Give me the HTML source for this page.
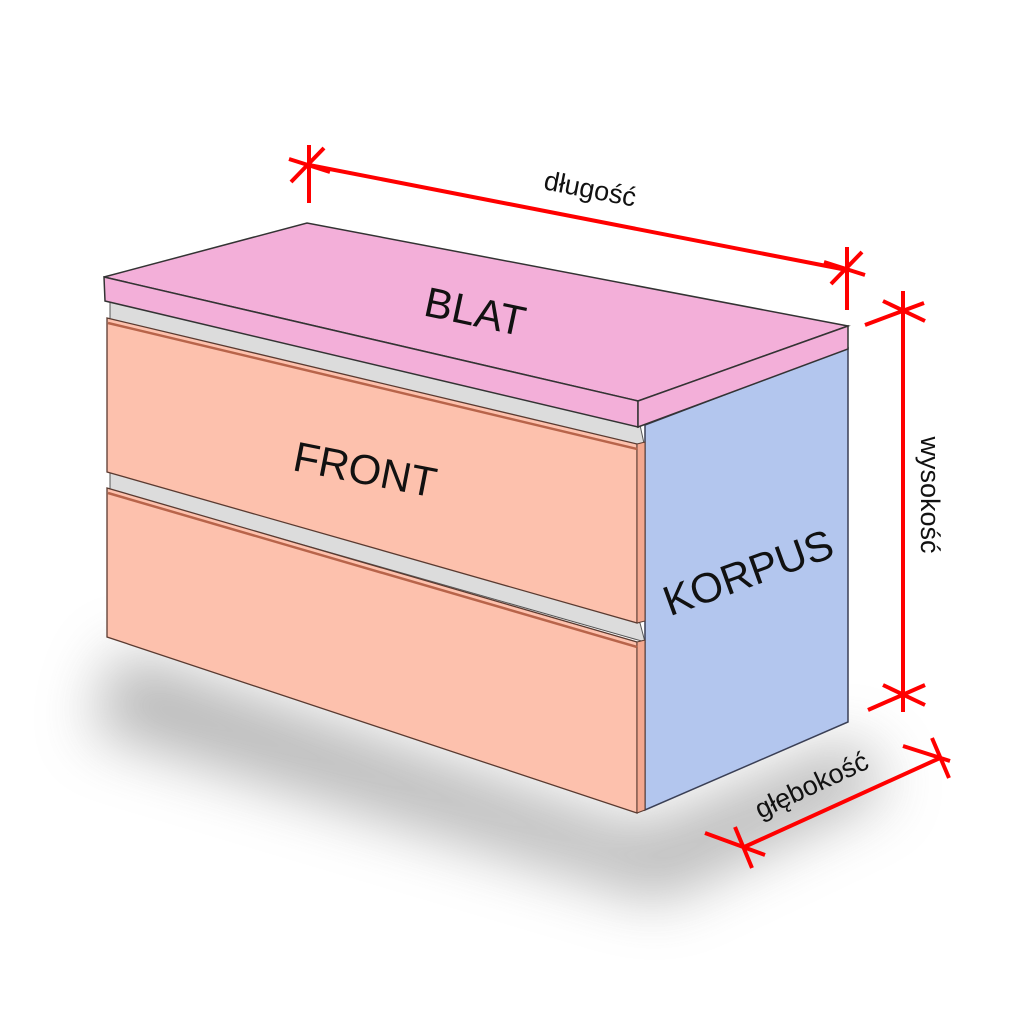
<!DOCTYPE html>
<html><head><meta charset="utf-8"><style>
html,body{margin:0;padding:0;background:#fff;}
svg{display:block;}
text{font-family:"Liberation Sans","DejaVu Sans",sans-serif;}
</style></head><body>
<svg width="1024" height="1024" viewBox="0 0 1024 1024" xmlns="http://www.w3.org/2000/svg">
<defs>
<filter id="blur" x="-30%" y="-30%" width="160%" height="160%"><feGaussianBlur stdDeviation="30"/></filter>
</defs>
<!-- shadow -->
<polygon points="120,650 640,830 850,740 890,790 660,900 90,730" fill="#9a9a9a" opacity="0.7" filter="url(#blur)"/>
<!-- korpus side -->
<polygon points="645,425 848,348 848,722 645,810" fill="#b3c6ee" stroke="#3a3f55" stroke-width="1.5"/>
<!-- gaps -->
<polygon points="110,300 640,425 645,448 110,320" fill="#dcdcdc" stroke="#555" stroke-width="1"/>
<polygon points="110,470 640,623 645,642 110,490" fill="#dcdcdc" stroke="#555" stroke-width="1"/>
<!-- drawer 1 -->
<polygon points="107,318 637,444 637,623 107,472" fill="#fdc1ad" stroke="#5a3a30" stroke-width="1.3"/>
<polygon points="637,444 645,442 645,621 637,623" fill="#f3a890" stroke="#5a3a30" stroke-width="1"/>
<line x1="108" y1="323" x2="637" y2="449" stroke="#b8644a" stroke-width="2.5"/>
<!-- drawer 2 -->
<polygon points="107,488 637,642 637,813 107,637" fill="#fdc1ad" stroke="#5a3a30" stroke-width="1.3"/>
<polygon points="637,642 645,640 645,810 637,813" fill="#f3a890" stroke="#5a3a30" stroke-width="1"/>
<line x1="108" y1="493" x2="637" y2="647" stroke="#b8644a" stroke-width="2.5"/>
<!-- blat -->
<polygon points="104,277 307,223 848,326 638,401" fill="#f3afd9" stroke="#333" stroke-width="1.5"/>
<polygon points="104,277 638,401 638,427 105,301" fill="#f3afd9" stroke="#333" stroke-width="1.5"/>
<polygon points="638,401 848,326 848,349 638,427" fill="#f3afd9" stroke="#333" stroke-width="1.5"/>
<!-- labels -->
<text x="475" y="326" font-size="42" text-anchor="middle" transform="rotate(12 475 312)" fill="#111">BLAT</text>
<text x="365" y="484" font-size="42" text-anchor="middle" transform="rotate(11 365 470)" fill="#111">FRONT</text>
<text x="748" y="587" font-size="42" text-anchor="middle" transform="rotate(-20 748 572)" fill="#111">KORPUS</text>
<!-- dimensions -->
<g stroke="#ff0000" stroke-width="4" fill="none" stroke-linecap="butt">
<line x1="309" y1="165" x2="847" y2="270"/>
<line x1="309" y1="145" x2="309" y2="203"/>
<line x1="291" y1="182" x2="324" y2="148"/>
<line x1="289" y1="159" x2="330" y2="172"/>
<line x1="847" y1="247" x2="847" y2="310"/>
<line x1="831" y1="284" x2="862" y2="252"/>
<line x1="824" y1="262" x2="865" y2="275"/>

<line x1="903" y1="291" x2="903" y2="712"/>
<line x1="865" y1="325" x2="924" y2="303"/>
<line x1="883" y1="301" x2="925" y2="321"/>
<line x1="868" y1="710" x2="925" y2="685"/>
<line x1="883" y1="685" x2="925" y2="705"/>

<line x1="742" y1="848" x2="940" y2="758"/>
<line x1="705" y1="833" x2="765" y2="855"/>
<line x1="735" y1="827" x2="752" y2="868"/>
<line x1="903" y1="746" x2="950" y2="761"/>
<line x1="932" y1="738" x2="949" y2="778"/>
</g>
<text x="590" y="198" font-size="27" text-anchor="middle" transform="rotate(11 590 190)" fill="#111">długość</text>
<text x="930" y="504" font-size="27" text-anchor="middle" transform="rotate(90 930 495)" fill="#111">wysokość</text>
<text x="812" y="794" font-size="27" text-anchor="middle" transform="rotate(-25 812 786)" fill="#111">głębokość</text>
</svg>
</body></html>
